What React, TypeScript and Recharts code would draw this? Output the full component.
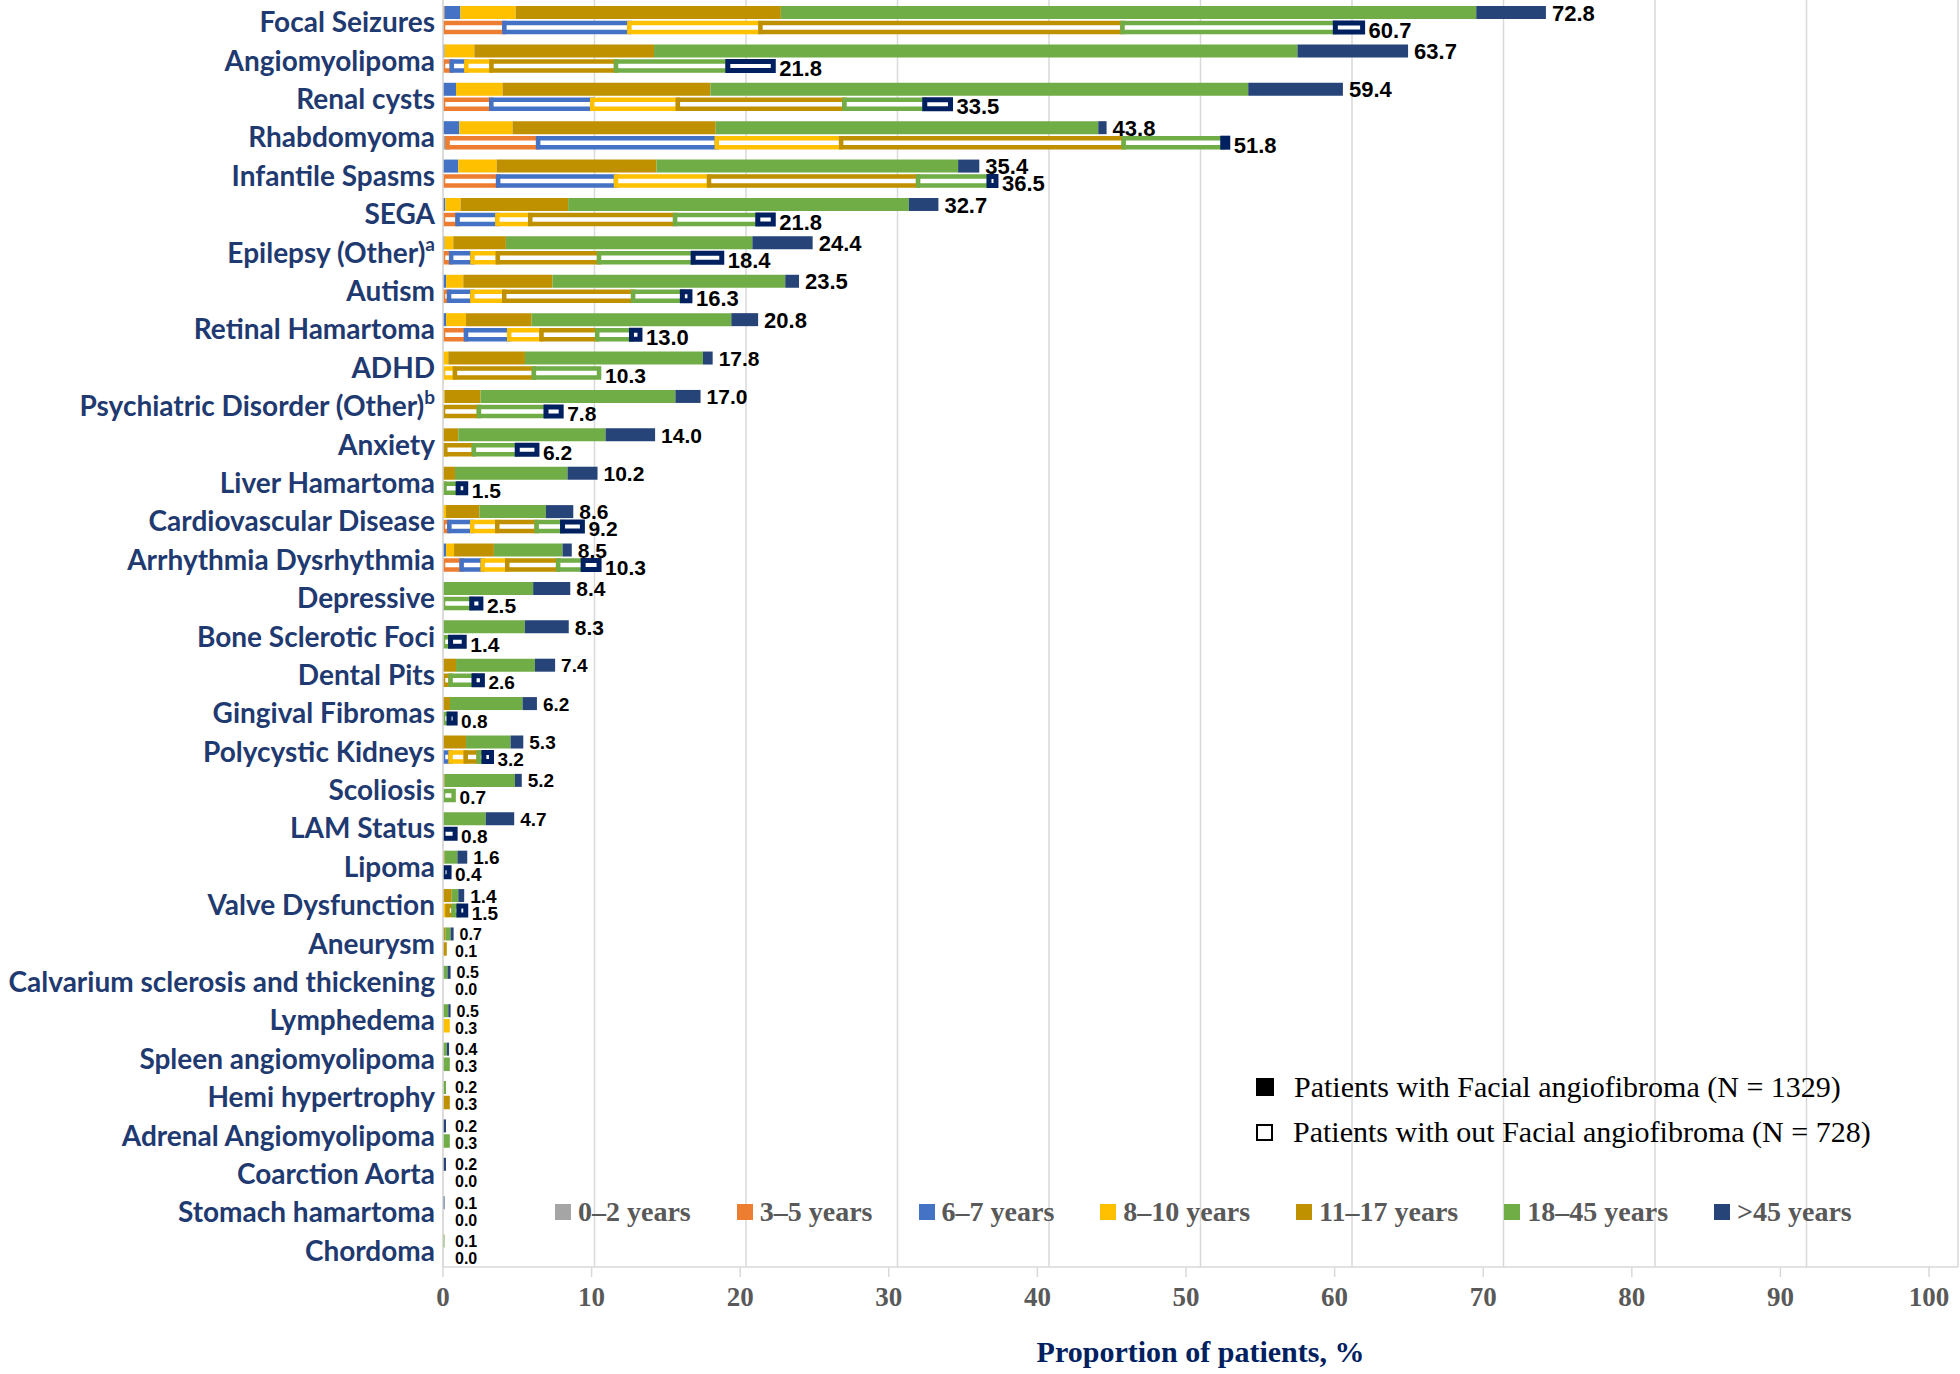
import React from 'react';
import { ComposedChart, Bar, Scatter, XAxis, YAxis, CartesianGrid, LabelList, Legend } from 'recharts';

const categories = [
  'Focal Seizures', 'Angiomyolipoma', 'Renal cysts', 'Rhabdomyoma', 'Infantile Spasms', 'SEGA',
  'Epilepsy (Other)', 'Autism', 'Retinal Hamartoma', 'ADHD', 'Psychiatric Disorder (Other)', 'Anxiety',
  'Liver Hamartoma', 'Cardiovascular Disease', 'Arrhythmia Dysrhythmia', 'Depressive', 'Bone Sclerotic Foci',
  'Dental Pits', 'Gingival Fibromas', 'Polycystic Kidneys', 'Scoliosis', 'LAM Status', 'Lipoma',
  'Valve Dysfunction', 'Aneurysm', 'Calvarium sclerosis and thickening', 'Lymphedema', 'Spleen angiomyolipoma',
  'Hemi hypertrophy', 'Adrenal Angiomyolipoma', 'Coarction Aorta', 'Stomach hamartoma', 'Chordoma',
];
const footnotes: Record<string, string> = { 'Epilepsy (Other)': 'a', 'Psychiatric Disorder (Other)': 'b' };

const ageGroups = ['0–2 years', '3–5 years', '6–7 years', '8–10 years', '11–17 years', '18–45 years', '>45 years'];
const ageColors = ['#a5a5a5', '#ed7d31', '#4472c4', '#ffc000', '#bf9000', '#70ad47', '#264478'];
const hollowStrokes = ['#a5a5a5', '#ed7d31', '#4472c4', '#ffc000', '#bf9000', '#70ad47', '#002060'];

// Totals shown as labels
const faTotals = [72.8, 63.7, 59.4, 43.8, 35.4, 32.7, 24.4, 23.5, 20.8, 17.8, 17.0, 14.0, 10.2, 8.6, 8.5, 8.4, 8.3, 7.4, 6.2, 5.3, 5.2, 4.7, 1.6, 1.4, 0.7, 0.5, 0.5, 0.4, 0.2, 0.2, 0.2, 0.1, 0.1];
const noFaTotals = [60.7, 21.8, 33.5, 51.8, 36.5, 21.8, 18.4, 16.3, 13.0, 10.3, 7.8, 6.2, 1.5, 9.2, 10.3, 2.5, 1.4, 2.6, 0.8, 3.2, 0.7, 0.8, 0.4, 1.5, 0.1, 0.0, 0.3, 0.3, 0.3, 0.3, 0.0, 0.0, 0.0];

// Patients with facial angiofibroma (filled bars), by age group
const fa0to2 = [0, 0, 0, 0, 0, 0, 0, 0, 0, 0, 0, 0, 0, 0, 0, 0, 0, 0, 0, 0, 0, 0, 0, 0, 0, 0, 0, 0, 0, 0, 0, 0, 0];
const fa3to5 = [0.1, 0, 0, 0, 0, 0, 0, 0, 0, 0, 0, 0, 0, 0, 0, 0, 0, 0, 0, 0, 0, 0, 0, 0, 0, 0, 0, 0, 0, 0, 0, 0, 0];
const fa6to7 = [1.05, 0.1, 0.86, 1.08, 1.01, 0.15, 0.1, 0.2, 0.2, 0, 0, 0, 0, 0, 0.2, 0, 0, 0, 0, 0, 0, 0, 0, 0, 0, 0, 0, 0, 0, 0, 0, 0, 0];
const fa8to10 = [3.65, 1.97, 3.07, 3.51, 2.53, 1.01, 0.58, 1.14, 1.32, 0.35, 0.1, 0, 0, 0.2, 0.53, 0, 0, 0, 0, 0, 0, 0, 0, 0, 0, 0, 0, 0, 0, 0, 0, 0, 0];
const fa11to17 = [17.5, 11.86, 13.72, 13.41, 10.55, 7.1, 3.47, 5.89, 4.33, 5.06, 2.38, 1.01, 0.79, 2.2, 2.63, 0, 0, 0.86, 0.46, 1.52, 0.1, 0, 0.1, 0.57, 0.15, 0, 0, 0, 0, 0, 0, 0, 0];
const fa18to45 = [45.9, 42.47, 35.5, 25.25, 19.91, 22.49, 16.27, 15.36, 13.18, 11.75, 12.86, 9.72, 7.43, 4.39, 4.53, 5.95, 5.4, 5.21, 4.79, 2.94, 4.65, 2.82, 0.85, 0.44, 0.35, 0.3, 0.35, 0.25, 0.2, 0, 0, 0, 0.1];
const fa45plus = [4.6, 7.3, 6.25, 0.55, 1.4, 1.95, 3.98, 0.91, 1.77, 0.64, 1.66, 3.27, 1.98, 1.81, 0.61, 2.45, 2.9, 1.33, 0.95, 0.84, 0.45, 1.88, 0.65, 0.39, 0.2, 0.2, 0.15, 0.15, 0, 0.2, 0.2, 0.1, 0];

// Patients without facial angiofibroma (hollow bars), by age group
const no0to2 = [0, 0, 0, 0.3, 0, 0, 0, 0, 0, 0, 0, 0, 0, 0, 0, 0, 0, 0, 0, 0, 0, 0, 0, 0, 0, 0, 0, 0, 0, 0, 0, 0, 0];
const no3to5 = [4.05, 0.58, 3.19, 5.98, 3.64, 0.96, 0.54, 0.4, 1.52, 0, 0, 0, 0, 0.42, 1.23, 0, 0, 0, 0, 0, 0, 0, 0, 0, 0, 0, 0, 0, 0, 0, 0, 0, 0];
const no6to7 = [8.25, 0.96, 6.66, 11.79, 7.78, 2.63, 1.41, 1.54, 2.85, 0, 0, 0, 0, 1.51, 1.39, 0, 0, 0, 0, 0.5, 0, 0, 0, 0, 0, 0, 0, 0, 0, 0, 0, 0, 0];
const no8to10 = [8.65, 1.66, 5.65, 8.21, 6.14, 2.17, 1.67, 2.1, 2.13, 0.79, 0, 0.15, 0, 1.65, 1.62, 0, 0, 0, 0, 1.0, 0, 0, 0, 0.3, 0, 0, 0.3, 0, 0, 0, 0, 0, 0];
const no11to17 = [23.9, 8.22, 11.0, 18.65, 13.8, 9.56, 6.68, 8.51, 3.68, 5.21, 2.37, 1.89, 0.1, 2.6, 3.36, 0, 0, 0.5, 0, 0.85, 0, 0, 0, 0.4, 0.1, 0, 0, 0, 0.3, 0, 0, 0, 0];
const no18to45 = [14.05, 7.38, 5.3, 6.54, 4.68, 5.46, 6.21, 3.25, 2.26, 4.3, 4.43, 2.86, 0.9, 1.71, 1.65, 1.9, 0.5, 1.55, 0.4, 0.35, 0.7, 0, 0, 0.35, 0, 0, 0, 0.3, 0, 0.3, 0, 0, 0];
const no45plus = [1.8, 3.0, 1.7, 0.33, 0.46, 1.02, 1.89, 0.5, 0.56, 0, 1.0, 1.3, 0.5, 1.31, 1.05, 0.6, 0.9, 0.55, 0.4, 0.5, 0, 0.8, 0.4, 0.45, 0, 0, 0, 0, 0, 0, 0, 0, 0];

const axisTicks = [0, 10, 20, 30, 40, 50, 60, 70, 80, 90, 100];

const faSeries = [fa0to2, fa3to5, fa6to7, fa8to10, fa11to17, fa18to45, fa45plus];
const noSeries = [no0to2, no3to5, no6to7, no8to10, no11to17, no18to45, no45plus];

const data = categories.map((name, i) => {
  const row: Record<string, any> = { name, faTotal: faTotals[i], noTotal: noFaTotals[i], idx: i };
  faSeries.forEach((s, k) => { row[`fa${k}`] = s[i]; });
  noSeries.forEach((s, k) => { row[`no${k}`] = s[i]; });
  return row;
});

const labelFontSize = (name: string) => {
  const i = categories.indexOf(name);
  return i <= 8 ? 22 : i <= 16 ? 21 : i <= 23 ? 19 : 16;
};

// label drawn next to the end of the stacked bar; shift places it on the filled (up) or hollow (down) bar
const makeTotalLabel = (shift: number) => (props: any) => {
  const { x, y, width, height, value } = props;
  const cx = Number(x) + (Number(width) || 0) / 2;
  const cy = Number(y) + (Number(height) || 0) / 2 + shift;
  const [name, total] = String(value).split('|');
  return (
    <text
      x={Math.max(cx + 6, 455)}
      y={cy}
      dy="0.36em"
      fontSize={labelFontSize(name)}
      fontWeight={700}
      fontFamily="'Liberation Sans', Arial, sans-serif"
      fill="#000"
    >
      {Number(total).toFixed(1)}
    </text>
  );
};

const EmptyShape = () => <g />;

const CategoryTick = (props: any) => {
  const { x, y, payload } = props;
  const sup = footnotes[payload.value];
  return (
    <text
      x={x}
      y={y}
      dy={13}
      textAnchor="end"
      fill="#1f3a70"
      fontFamily="Lato, 'Open Sans', sans-serif"
      fontWeight={700}
      fontSize={28}
    >
      {payload.value}
      {sup ? <tspan dy={-12} fontSize={19}>{sup}</tspan> : null}
    </text>
  );
};

const serif = "'Liberation Serif', 'Times New Roman', serif";

const renderLegend = () => (
  <div style={{ position: 'relative', width: 1960, height: 1374, pointerEvents: 'none' }}>
    <div style={{ position: 'absolute', left: 1256, top: 1069, display: 'flex', flexDirection: 'column' }}>
      <div style={{ display: 'flex', alignItems: 'center', height: 36, marginBottom: 9 }}>
        <span style={{ display: 'inline-block', width: 18, height: 18, background: '#000', marginRight: 20 }} />
        <span style={{ fontFamily: serif, fontSize: 30, color: '#000', lineHeight: '36px', whiteSpace: 'nowrap' }}>
          Patients with Facial angiofibroma (N = 1329)
        </span>
      </div>
      <div style={{ display: 'flex', alignItems: 'center', height: 36 }}>
        <span style={{ display: 'inline-block', width: 13, height: 13, background: '#fff', border: '2.5px solid #000', marginRight: 20 }} />
        <span style={{ fontFamily: serif, fontSize: 30, color: '#000', lineHeight: '36px', whiteSpace: 'nowrap' }}>
          Patients with out Facial angiofibroma (N = 728)
        </span>
      </div>
    </div>
    <div style={{ position: 'absolute', left: 555, top: 1194, height: 36, display: 'flex', alignItems: 'center', gap: 46 }}>
      {ageGroups.map((g, k) => (
        <div key={g} style={{ display: 'flex', alignItems: 'center' }}>
          <span style={{ display: 'inline-block', width: 16, height: 16, background: ageColors[k], marginRight: 7 }} />
          <span style={{ fontFamily: serif, fontWeight: 700, fontSize: 28, color: '#595959', lineHeight: '36px', whiteSpace: 'nowrap' }}>{g}</span>
        </div>
      ))}
    </div>
  </div>
);

export default function App() {
  return (
    <div style={{ position: 'absolute', left: 0, top: 0, width: 1960, height: 1374, background: '#fff' }}>
      <ComposedChart
        width={1960}
        height={1374}
        data={data}
        layout="vertical"
        margin={{ top: 0, right: 2, bottom: 0, left: 0 }}
        barGap={4}
      >
        <CartesianGrid xAxisId="bars" horizontal={false} vertical stroke="#d9d9d9" strokeWidth={1.5} />
        <XAxis
          xAxisId="ticks"
          type="number"
          domain={[0, 101.95]}
          ticks={axisTicks}
          allowDataOverflow
          height={107}
          stroke="#d9d9d9"
          strokeWidth={1.5}
          tickSize={10}
          tickMargin={10}
          tick={{ fill: '#595959', fontSize: 27, fontWeight: 700, fontFamily: serif }}
          label={{
            value: 'Proportion of patients, %',
            position: 'insideBottom',
            offset: 12,
            fill: '#002060',
            fontSize: 30,
            fontWeight: 700,
            fontFamily: serif,
          }}
        />
        <XAxis xAxisId="bars" type="number" domain={[0, 100]} ticks={axisTicks} hide height={0} allowDataOverflow />
        <YAxis
          type="category"
          dataKey="name"
          width={443}
          interval={0}
          tickSize={0}
          tickMargin={8}
          tickLine={false}
          stroke="#d9d9d9"
          strokeWidth={1.5}
          tick={<CategoryTick />}
        />
        {ageGroups.map((g, k) => (
          <Bar
            key={`fa${k}`}
            dataKey={`fa${k}`}
            name={g}
            stackId="fa"
            xAxisId="bars"
            fill={ageColors[k]}
            barSize={13}
            isAnimationActive={false}
          />
        ))}
        {ageGroups.map((g, k) => (
          <Bar
            key={`no${k}`}
            dataKey={`no${k}`}
            name={`${g} (without FA)`}
            stackId="no"
            xAxisId="bars"
            fill="#ffffff"
            stroke={hollowStrokes[k]}
            strokeWidth={k === 6 ? 5 : 4.5}
            barSize={9}
            isAnimationActive={false}
          />
        ))}
        <Scatter dataKey="faTotal" xAxisId="bars" shape={<EmptyShape />} isAnimationActive={false} legendType="none">
          <LabelList valueAccessor={(e: any) => `${e.payload.name}|${e.payload.faTotal}`} content={makeTotalLabel(-6.5)} />
        </Scatter>
        <Scatter dataKey="noTotal" xAxisId="bars" shape={<EmptyShape />} isAnimationActive={false} legendType="none">
          <LabelList valueAccessor={(e: any) => `${e.payload.name}|${e.payload.noTotal}`} content={makeTotalLabel(10.5)} />
        </Scatter>
        <Legend
          layout="vertical"
          align="center"
          verticalAlign="middle"
          content={renderLegend}
          wrapperStyle={{ left: 0, top: 0, width: 1960, height: 1374, pointerEvents: 'none' }}
        />
      </ComposedChart>
    </div>
  );
}
